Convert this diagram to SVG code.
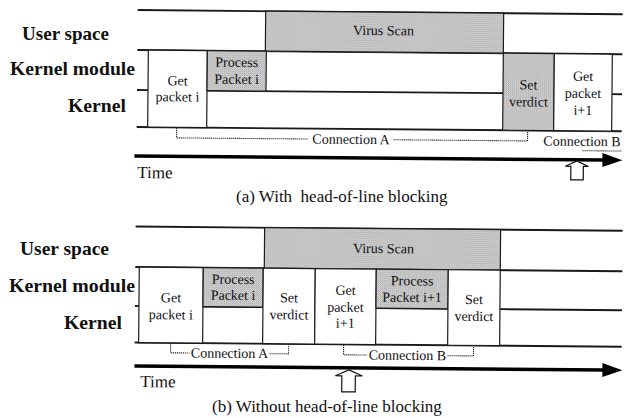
<svg xmlns="http://www.w3.org/2000/svg" width="627" height="417" viewBox="0 0 627 417" font-family="'Liberation Serif', 'Times New Roman', Times, 'DejaVu Serif', serif">
<style>
text{font-family:"Liberation Serif","Times New Roman",Times,"DejaVu Serif",serif;fill:#111}
.lbl{font-weight:bold;font-size:19px}
.t{font-size:14px;text-anchor:middle}
.cap{font-size:17px}
.lane{stroke:#1a1a1a;stroke-width:1.8;fill:none}
.box{stroke:#1a1a1a;stroke-width:1.2;fill:#fff}
.gray{stroke:#1a1a1a;stroke-width:1.2;fill:url(#stip)}
.dot{stroke:#222;stroke-width:1.1;stroke-dasharray:1.2 0.8;fill:none}
.axis{stroke:#000;stroke-width:3.5;fill:none}
.up{fill:#fff;stroke:#111;stroke-width:1.2}
</style>
<defs>
<pattern id="stip" width="2" height="2" patternUnits="userSpaceOnUse">
<rect width="2" height="2" fill="#d6d6d6"/>
<rect width="1" height="1" fill="#a6a6a6"/>
<rect x="1" y="1" width="1" height="1" fill="#bcbcbc"/>
</pattern>
</defs>
<rect width="627" height="417" fill="#fff"/>

<!-- Row labels -->
<g id="labels">
<text class="lbl" x="22" y="40" textLength="87" lengthAdjust="spacingAndGlyphs">User space</text>
<text class="lbl" x="10" y="75" textLength="125" lengthAdjust="spacingAndGlyphs">Kernel module</text>
<text class="lbl" x="68" y="112" textLength="58" lengthAdjust="spacingAndGlyphs">Kernel</text>
<text class="lbl" x="20" y="255" textLength="89" lengthAdjust="spacingAndGlyphs">User space</text>
<text class="lbl" x="9" y="292" textLength="126" lengthAdjust="spacingAndGlyphs">Kernel module</text>
<text class="lbl" x="64" y="329" textLength="58" lengthAdjust="spacingAndGlyphs">Kernel</text>
</g>

<!-- (a) With head-of-line blocking -->
<g id="partA" transform="rotate(0.5 135 90)">
<g id="lanesA">
<line class="lane" x1="137" y1="10" x2="622" y2="10"/>
<line class="lane" x1="137" y1="50" x2="622" y2="50"/>
<line class="lane" x1="137" y1="90" x2="148" y2="90"/>
<line class="lane" x1="207" y1="90" x2="503" y2="90"/>
<line class="lane" x1="612" y1="90" x2="622" y2="90"/>
<line class="lane" x1="137" y1="127" x2="622" y2="127"/>
</g>
<g id="a-virus-scan"><rect class="gray" x="265" y="10" width="238" height="40"/><text class="t" x="383" y="33">Virus Scan</text></g>
<g id="a-get-packet-i"><rect class="box" x="148" y="50" width="59" height="77"/><text class="t" x="177.5" y="85">Get</text><text class="t" x="177.5" y="101">packet i</text></g>
<g id="a-process-packet-i"><rect class="gray" x="207" y="50" width="59" height="40"/><text class="t" x="236.5" y="66">Process</text><text class="t" x="236.5" y="83">Packet i</text></g>
<g id="a-set-verdict"><rect class="gray" x="503" y="50" width="51" height="77"/><text class="t" x="528.5" y="86">Set</text><text class="t" x="528.5" y="103">verdict</text></g>
<g id="a-get-packet-i1"><rect class="box" x="554" y="50" width="58" height="77"/><text class="t" x="583" y="77">Get</text><text class="t" x="583" y="94">packet</text><text class="t" x="583" y="111">i+1</text></g>
<g id="connectorsA">
<path class="dot" d="M177,127.5 V137.5 H309 M394,137.5 H528 V127.5"/>
<text class="t" x="351.5" y="142">Connection A</text>
<text class="t" x="582.5" y="142">Connection B</text>
<path class="dot" d="M583,146.8 H622"/>
<line class="axis" x1="135" y1="156" x2="606" y2="156"/>
<polygon points="603,149 623,156 603,163" fill="#000"/>
<polygon class="up" points="577.5,157 589,162.5 584,162.5 584,176 571.5,176 571.5,162.5 566,162.5"/>
</g>
<text x="138" y="178" style="font-size:17px">Time</text>
</g>
<text class="cap" x="236" y="202" xml:space="preserve">(a) With  head-of-line blocking</text>

<!-- (b) Without head-of-line blocking -->
<g id="partB" transform="rotate(0.5 135 300)">
<g id="lanesB">
<line class="lane" x1="135" y1="226.5" x2="622" y2="226.5"/>
<line class="lane" x1="135" y1="267" x2="622" y2="267"/>
<line class="lane" x1="135" y1="306" x2="139" y2="306"/>
<line class="lane" x1="203" y1="306" x2="263" y2="306"/>
<line class="lane" x1="376" y1="306" x2="448" y2="306"/>
<line class="lane" x1="500" y1="306" x2="622" y2="306"/>
<line class="lane" x1="135" y1="342.5" x2="622" y2="342.5"/>
</g>
<g id="b-virus-scan"><rect class="gray" x="264" y="226.5" width="236" height="40.5"/><text class="t" x="383" y="251">Virus Scan</text></g>
<g id="b-get-packet-i"><rect class="box" x="139" y="267" width="64" height="75.5"/><text class="t" x="171" y="302">Get</text><text class="t" x="171" y="319">packet i</text></g>
<g id="b-process-packet-i"><rect class="gray" x="203" y="267" width="60" height="39"/><text class="t" x="233" y="283">Process</text><text class="t" x="233" y="299">Packet i</text></g>
<g id="b-set-verdict-1"><rect class="box" x="263" y="267" width="52" height="75.5"/><text class="t" x="289" y="301">Set</text><text class="t" x="289" y="318">verdict</text></g>
<g id="b-get-packet-i1"><rect class="box" x="315" y="267" width="61" height="75.5"/><text class="t" x="345.5" y="293">Get</text><text class="t" x="345.5" y="310">packet</text><text class="t" x="345.5" y="326">i+1</text></g>
<g id="b-process-packet-i1"><rect class="gray" x="376" y="267" width="72" height="39"/><text class="t" x="412" y="283">Process</text><text class="t" x="412" y="299.5">Packet i+1</text></g>
<g id="b-set-verdict-2"><rect class="box" x="448" y="267" width="52" height="75.5"/><text class="t" x="474" y="301">Set</text><text class="t" x="474" y="318">verdict</text></g>
<g id="connectorsB">
<path class="dot" d="M171,343 V352.5 H190 M270,352.5 H289 V344"/>
<text class="t" x="230" y="357">Connection A</text>
<path class="dot" d="M344,343 V353 H368 M448,353 H474 V344"/>
<text class="t" x="408" y="357.5">Connection B</text>
<line class="axis" x1="135" y1="366" x2="606" y2="366"/>
<polygon points="603,359 623,366 603,373" fill="#000"/>
<polygon class="up" points="349.5,368 363,374 356,374 356,390 342.5,390 342.5,374 336,374"/>
</g>
<text x="141" y="387" style="font-size:17px">Time</text>
</g>
<text class="cap" x="212" y="412">(b) Without head-of-line blocking</text>
</svg>
